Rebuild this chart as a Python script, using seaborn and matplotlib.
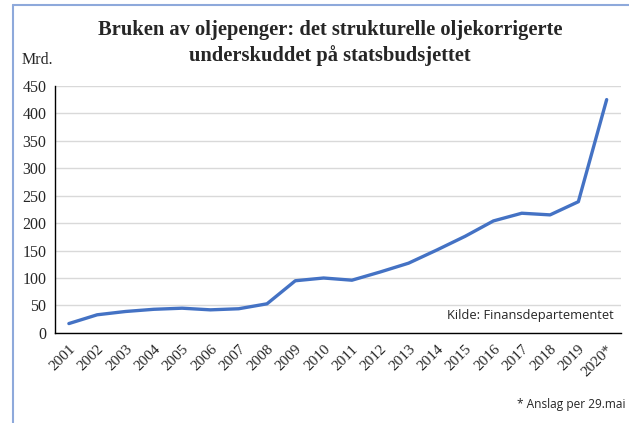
import matplotlib
matplotlib.use("Agg")
import matplotlib.pyplot as plt
import seaborn as sns
import pandas as pd
from matplotlib.lines import Line2D

years = ["2001", "2002", "2003", "2004", "2005", "2006", "2007", "2008", "2009", "2010",
         "2011", "2012", "2013", "2014", "2015", "2016", "2017", "2018", "2019", "2020*"]
values = [17, 33, 39, 43, 45, 42, 44, 53, 95, 100,
          96, 111, 127, 151, 176, 204, 218, 215, 239, 425]
y_ticks = [0, 50, 100, 150, 200, 250, 300, 350, 400, 450]

df = pd.DataFrame({"pos": range(len(years)), "value": values})

sns.set_style("white")
plt.rcParams["font.family"] = ["Liberation Serif", "DejaVu Serif"]

fig = plt.figure(figsize=(6.29, 4.23), dpi=100)
ax = fig.add_axes([0.087, 0.213, 0.900, 0.584])

sns.lineplot(data=df, x="pos", y="value", ax=ax, color="#4472C4", linewidth=2.4)

ax.set_xlim(-0.5, len(years) - 0.5)
ax.set_ylim(0, 450)
ax.set_yticks(y_ticks)
ax.set_yticklabels([str(v) for v in y_ticks], fontsize=11.5)
ax.set_xticks(range(len(years)))
ax.set_xticklabels(years, rotation=45, ha="right", rotation_mode="anchor", fontsize=11)
ax.set_xticks([i - 0.5 for i in range(len(years) + 1)], minor=True)
ax.tick_params(axis="x", which="major", length=0, pad=7)
ax.tick_params(axis="x", which="minor", length=4, width=1, color="black", direction="out")
ax.tick_params(axis="y", length=4, width=1, color="black", direction="out", pad=2)
ax.set_xlabel("")
ax.set_ylabel("")

ax.grid(axis="y", color="#d9d9d9", linewidth=1)
ax.set_axisbelow(True)
for side in ["top", "right"]:
    ax.spines[side].set_visible(False)
for side in ["left", "bottom"]:
    ax.spines[side].set_color("black")
    ax.spines[side].set_linewidth(1)

fig.text(0.525, 0.898, "Bruken av oljepenger: det strukturelle oljekorrigerte\nunderskuddet på statsbudsjettet",
         ha="center", va="center", fontsize=14.8, fontweight="bold", linespacing=1.3)
fig.text(0.035, 0.858, "Mrd.", ha="left", va="center", fontsize=11.5)
fig.text(0.975, 0.253, "Kilde: Finansdepartementet", ha="right", va="center",
         fontsize=9.3, family=["Open Sans", "DejaVu Sans"])
fig.text(0.995, 0.043, "* Anslag per 29.mai", ha="right", va="center",
         fontsize=8.6, family=["Open Sans", "DejaVu Sans"])

# light blue frame, left and top edges
fig.add_artist(Line2D([0.021, 0.021], [0.0, 0.988], color="#8EA9DB", linewidth=1.5))
fig.add_artist(Line2D([0.021, 1.0], [0.988, 0.988], color="#8EA9DB", linewidth=1.5))

fig.savefig("out.png", dpi=100)
